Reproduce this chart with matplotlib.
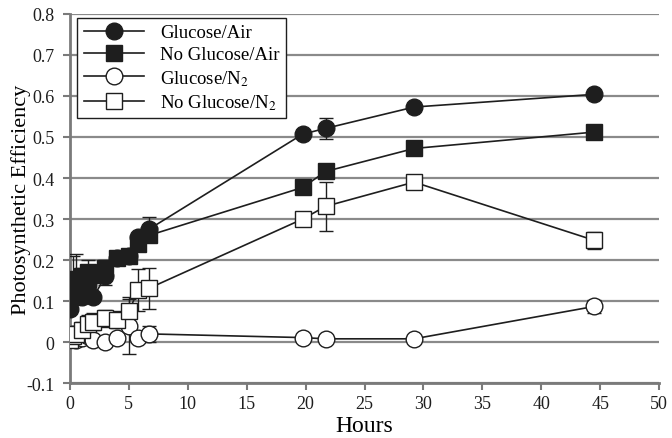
import matplotlib
matplotlib.use('Agg')
import matplotlib.pyplot as plt
import numpy as np

# Sampling times (hours)
hours = [0, 0.25, 0.5, 1, 1.5, 2, 3, 4, 5, 5.8, 6.7, 19.75, 21.7, 29.2, 44.5]

# Photosynthetic efficiency per condition
glucose_air = [0.08, 0.12, 0.13, 0.11, 0.14, 0.11, 0.16, 0.205, 0.21, 0.255, 0.275, 0.507, 0.521, 0.573, 0.604]
glucose_air_err = [0.01, 0.02, 0.02, 0.01, 0.02, 0.01, 0.02, 0.01, 0.01, 0.01, 0.03, 0.01, 0.025, 0.01, 0.01]
noglc_air = [0.12, 0.15, 0.155, 0.16, 0.17, 0.165, 0.18, 0.205, 0.21, 0.24, 0.26, 0.377, 0.416, 0.472, 0.512]
noglc_air_err = [0.02, 0.06, 0.06, 0.02, 0.03, 0.02, 0.02, 0.01, 0.01, 0.01, 0.01, 0.01, 0.01, 0.01, 0.01]
glucose_n2 = [0.01, 0.02, 0.005, 0.01, 0.015, 0.005, 0.0, 0.01, 0.04, 0.01, 0.02, 0.011, 0.008, 0.008, 0.087]
glucose_n2_err = [0.01, 0.01, 0.01, 0.01, 0.01, 0.01, 0.01, 0.01, 0.07, 0.01, 0.02, 0.005, 0.005, 0.005, 0.015]
noglc_n2 = [0.005, 0.015, 0.02, 0.03, 0.045, 0.05, 0.058, 0.055, 0.075, 0.127, 0.131, 0.30, 0.331, 0.39, 0.248]
noglc_n2_err = [0.01, 0.01, 0.01, 0.02, 0.02, 0.02, 0.02, 0.02, 0.03, 0.05, 0.05, 0.01, 0.06, 0.01, 0.02]

plt.rcParams['font.family'] = ['Liberation Serif', 'DejaVu Serif']
plt.rcParams['mathtext.fontset'] = 'stix'

fig = plt.figure(figsize=(6.72, 4.39), dpi=100)
ax = fig.add_axes([0.104, 0.125, 0.877, 0.841])

series = [
    (glucose_air, glucose_air_err, 'o', '#1e1e1e', 'Glucose/Air'),
    (noglc_air, noglc_air_err, 's', '#1e1e1e', 'No Glucose/Air'),
    (glucose_n2, glucose_n2_err, 'o', 'white', 'Glucose/N$_2$'),
    (noglc_n2, noglc_n2_err, 's', 'white', 'No Glucose/N$_2$'),
]
for vals, err, mk, fc, lab in series:
    ax.errorbar(hours, vals, yerr=err, fmt='-', marker=mk, color='#1e1e1e',
                mfc=fc, mec='#1e1e1e', ms=12 if mk == 'o' else 11, mew=1.0,
                lw=1.2, elinewidth=1.0, capsize=5, capthick=1.2, label=lab, zorder=3)

ax.set_xlim(0, 50)
ax.set_ylim(-0.1, 0.8)
ax.set_xticks(np.arange(0, 51, 5))
ax.set_yticks(np.round(np.arange(-0.1, 0.81, 0.1), 1))
ax.set_yticklabels(['-0.1', '0', '0.1', '0.2', '0.3', '0.4', '0.5', '0.6', '0.7', '0.8'])
ax.yaxis.grid(True, color='#8a8a8a', lw=1.6)
ax.set_axisbelow(True)
for s in ['top', 'right']:
    ax.spines[s].set_visible(False)
for s in ['left', 'bottom']:
    ax.spines[s].set_color('#7a7a7a')
    ax.spines[s].set_linewidth(2)
ax.tick_params(axis='both', colors='#7a7a7a', labelcolor='#1e1e1e', labelsize=13, width=1.5, length=5)
ax.tick_params(axis='y', pad=6)
ax.set_xlabel('Hours', fontsize=17, labelpad=2)
ax.set_ylabel('Photosynthetic Efficiency', fontsize=16)
ax.yaxis.set_label_coords(-0.066, 0.5)

handles, labels = ax.get_legend_handles_labels()
handles = [h[0] for h in handles]
leg = ax.legend(handles, labels, loc='upper left', bbox_to_anchor=(0.012, 0.99), borderaxespad=0,
                fontsize=13.5, frameon=True, fancybox=False, edgecolor='#1e1e1e', framealpha=1,
                handlelength=3.2, borderpad=0.35, labelspacing=0.25, handletextpad=0.9)
leg.get_frame().set_linewidth(1.0)

fig.savefig('out.png', dpi=100)
